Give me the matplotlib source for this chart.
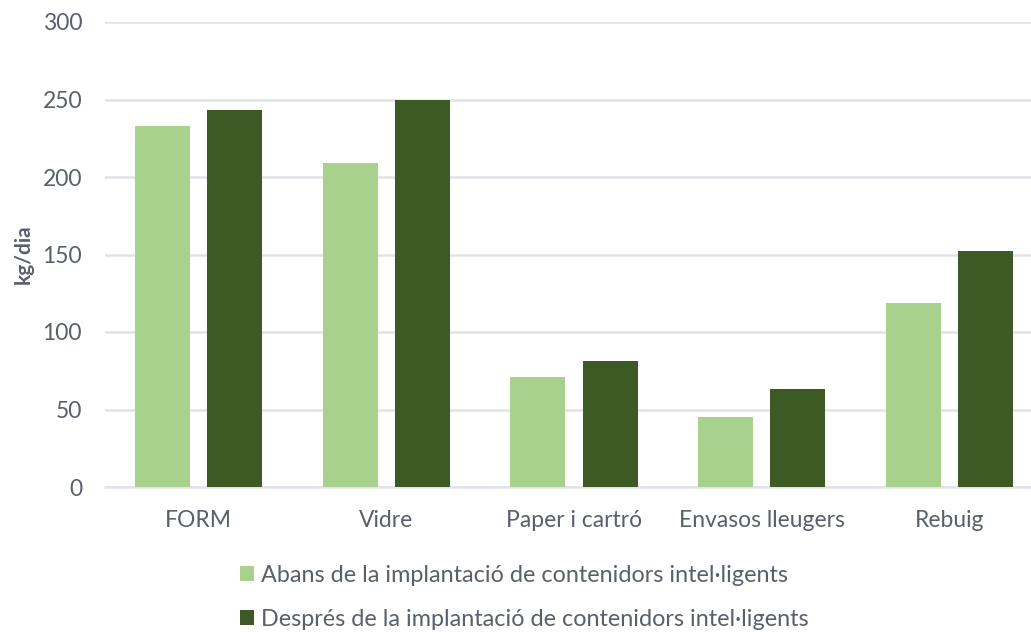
import matplotlib.pyplot as plt
import numpy as np

# Data
categories = ['FORM', 'Vidre', 'Paper i cartró', 'Envasos lleugers', 'Rebuig']
abans = [233, 209, 71, 45, 119]
despres = [243, 250, 81, 63, 152]
labels = ['Abans de la implantació de contenidors intel·ligents',
          'Després de la implantació de contenidors intel·ligents']

plt.rcParams['font.family'] = ['Lato', 'DejaVu Sans']
text_col = '#595f6b'
grid_col = '#e2e3e8'

fig = plt.figure(figsize=(10.31, 6.32), dpi=100)
ax = fig.add_axes([105 / 1031, 145 / 632, 938 / 1031, 465 / 632])

x = np.arange(len(categories))
w = 0.293
off = 0.192
b1 = ax.bar(x - off, abans, w, color='#a9d18e', label=labels[0], zorder=3)
b2 = ax.bar(x + off, despres, w, color='#3d5a24', label=labels[1], zorder=3)

ax.set_xlim(-0.5, len(categories) - 0.5)
ax.set_ylim(0, 300)
ax.set_yticks(range(0, 301, 50))
ax.yaxis.grid(True, color=grid_col, linewidth=1.8, zorder=0)
ax.set_axisbelow(True)
for s in ['top', 'right', 'left']:
    ax.spines[s].set_visible(False)
ax.spines['bottom'].set_color(grid_col)
ax.spines['bottom'].set_linewidth(1.8)
ax.tick_params(length=0, labelsize=16.5, colors=text_col)
ax.tick_params(axis='x', pad=16.5)
ax.tick_params(axis='y', pad=16.5)
ax.set_xticks(x)
ax.set_xticklabels(categories)
ax.set_ylabel('kg/dia', fontsize=15, fontweight='bold', color=text_col, labelpad=6)

fig.legend(handles=[b1, b2], loc='upper left', bbox_to_anchor=(240 / 1031, 1 - 565 / 632),
           frameon=False, fontsize=16.8, labelcolor=text_col, ncol=1,
           handlelength=0.6, handleheight=0.6, handletextpad=0.3, labelspacing=0.98,
           borderaxespad=0, borderpad=0)

fig.savefig('out.png', dpi=100)
